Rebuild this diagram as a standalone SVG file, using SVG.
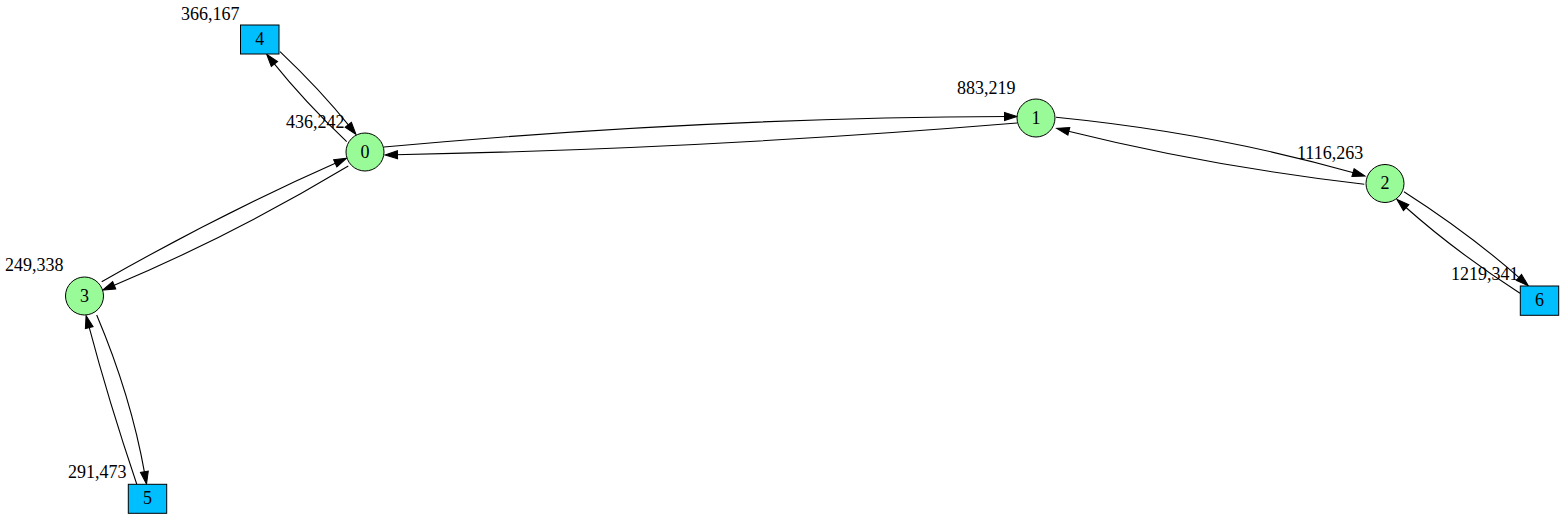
<svg xmlns="http://www.w3.org/2000/svg" width="1565" height="519" viewBox="0 0 1565 519">
<style>
.bg{fill:#ffffff}
.c{fill:#98fb98;stroke:#000;stroke-width:1}
.b{fill:#00bfff;stroke:#000;stroke-width:1}
.t{font-family:"Liberation Serif","Times New Roman",serif;font-size:18px;fill:#000}
.m{text-anchor:middle}
.e{fill:none;stroke:#000;stroke-width:1.1;marker-end:url(#arr)}
</style>
<defs>
<marker id="arr" markerUnits="userSpaceOnUse" markerWidth="14" markerHeight="10" refX="2.5" refY="4.5" orient="auto" overflow="visible">
<path d="M0,0.5 L12.5,4.5 L0,8.5 z" fill="#000" stroke="#000" stroke-width="1"/>
</marker>
</defs>
<rect class="bg" x="0" y="0" width="1565" height="519"/>
<g id="edges">
<path class="e" d="M384,147 Q699.8,117.8 1007,116.5"/>
<path class="e" d="M1017,123 Q701.5,149 395,154.8"/>
<path class="e" d="M1056,117.3 Q1213.1,132.9 1355.4,173.3"/>
<path class="e" d="M1364.3,184.3 Q1208.7,166.1 1066.4,130.7"/>
<path class="e" d="M348.3,166 Q230,236.9 111.9,286.2"/>
<path class="e" d="M101.7,281.7 Q221.05,213.75 337.5,162.3"/>
<path class="e" d="M280,51.7 Q320.9,90.4 349.8,126.7"/>
<path class="e" d="M346.7,141.7 Q303.75,100.7 272.9,62.1"/>
<path class="e" d="M96.7,315 Q131.2,396.7 144.8,474.2"/>
<path class="e" d="M136.7,484 Q108.5,400.6 88.6,325.2"/>
<path class="e" d="M1404,191.7 Q1469.8,233.9 1520.8,279.1"/>
<path class="e" d="M1520,293.3 Q1454.8,251.1 1404.3,206"/>
</g>
<g id="node0">
<circle class="c" cx="365" cy="152" r="19"/>
<text class="t m" x="365" y="157.5">0</text>
<text class="t" x="286" y="128">436,242</text>
</g>
<g id="node1">
<circle class="c" cx="1036" cy="118" r="19"/>
<text class="t m" x="1036" y="123.5">1</text>
<text class="t" x="957" y="93.5">883,219</text>
</g>
<g id="node2">
<circle class="c" cx="1385" cy="183.5" r="19"/>
<text class="t m" x="1385" y="189">2</text>
<text class="t" x="1297" y="158.5">1116,263</text>
</g>
<g id="node3">
<circle class="c" cx="84.5" cy="296" r="19"/>
<text class="t m" x="84.5" y="301.5">3</text>
<text class="t" x="5" y="271">249,338</text>
</g>
<g id="node4">
<rect class="b" x="240.5" y="25" width="38.5" height="29"/>
<text class="t m" x="259.75" y="45">4</text>
<text class="t" x="181" y="20">366,167</text>
</g>
<g id="node5">
<rect class="b" x="128.3" y="484.3" width="38.4" height="29"/>
<text class="t m" x="147.5" y="504.3">5</text>
<text class="t" x="68" y="478">291,473</text>
</g>
<g id="node6">
<rect class="b" x="1520.3" y="286" width="38.4" height="29.3"/>
<text class="t m" x="1539.5" y="306">6</text>
<text class="t" x="1451" y="280">1219,341</text>
</g>
</svg>
